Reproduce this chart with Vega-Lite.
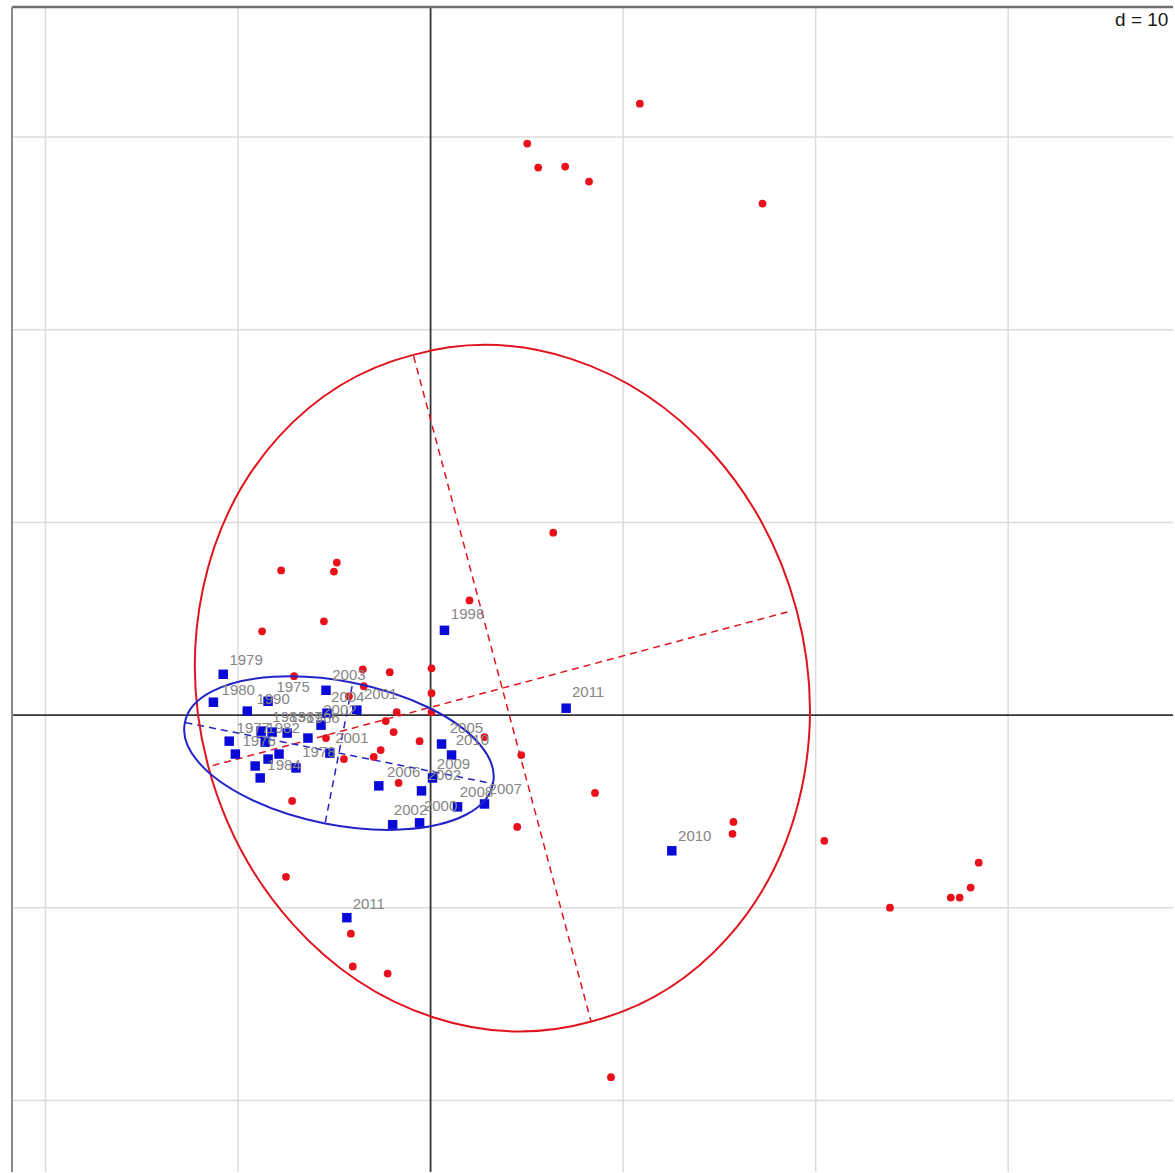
{
  "$schema": "https://vega.github.io/schema/vega-lite/v6.json",
  "autosize": {"type": "fit", "contains": "padding"},
  "width": 1175,
  "height": 1173,
  "padding": {"left": 10, "top": 5, "right": 0, "bottom": 0},
  "background": "white",
  "config": {"view": {"stroke": null}},
  "datasets": {
    "grid": [
      {"v": -20}, {"v": -10}, {"v": 10}, {"v": 20}, {"v": 30}
    ],
    "one": [{"k": 1}],
    "red": [
      {"x": 10.87, "y": 31.73}, {"x": 5.02, "y": 29.66}, {"x": 5.59, "y": 28.42}, {"x": 6.99, "y": 28.47},
      {"x": 8.23, "y": 27.69}, {"x": 17.24, "y": 26.55}, {"x": 6.37, "y": 9.47}, {"x": 2.02, "y": 5.95},
      {"x": -7.76, "y": 7.51}, {"x": -4.87, "y": 7.92}, {"x": -5.02, "y": 7.45}, {"x": -5.54, "y": 4.87},
      {"x": -8.75, "y": 4.35}, {"x": -7.09, "y": 2.02}, {"x": -3.52, "y": 2.38}, {"x": -2.12, "y": 2.23},
      {"x": 0.05, "y": 2.43}, {"x": 0.05, "y": 1.14}, {"x": -4.24, "y": 0.98}, {"x": -3.47, "y": 1.5},
      {"x": 0.05, "y": 0.16}, {"x": -1.76, "y": 0.16}, {"x": -2.33, "y": -0.31}, {"x": -1.92, "y": -0.88},
      {"x": -0.57, "y": -1.35}, {"x": -5.43, "y": -1.19}, {"x": -2.59, "y": -1.81}, {"x": -2.95, "y": -2.17},
      {"x": -4.5, "y": -2.28}, {"x": -1.66, "y": -3.52}, {"x": 2.8, "y": -1.14}, {"x": 4.71, "y": -2.07},
      {"x": 4.5, "y": -5.8}, {"x": 8.54, "y": -4.04}, {"x": 15.73, "y": -5.54}, {"x": 15.68, "y": -6.16},
      {"x": 20.45, "y": -6.52}, {"x": 23.86, "y": -9.99}, {"x": 27.02, "y": -9.47}, {"x": 27.48, "y": -9.47},
      {"x": 28.05, "y": -8.95}, {"x": 28.47, "y": -7.66}, {"x": 9.37, "y": -18.79}, {"x": -7.19, "y": -4.45},
      {"x": -7.51, "y": -8.39}, {"x": -4.14, "y": -11.34}, {"x": -4.04, "y": -13.04}, {"x": -2.23, "y": -13.41}
    ],
    "blue": [
      {"x": -10.77, "y": 2.12}, {"x": -11.28, "y": 0.67}, {"x": -9.52, "y": 0.21}, {"x": -8.44, "y": 0.72},
      {"x": -8.8, "y": -0.83}, {"x": -8.23, "y": -0.88}, {"x": -7.45, "y": -0.93}, {"x": -10.46, "y": -1.35},
      {"x": -10.14, "y": -2.02}, {"x": -8.59, "y": -1.4}, {"x": -8.44, "y": -2.28}, {"x": -7.87, "y": -2.02},
      {"x": -9.11, "y": -2.64}, {"x": -8.85, "y": -3.26}, {"x": -6.99, "y": -2.74}, {"x": -6.37, "y": -1.19},
      {"x": -5.69, "y": -0.52}, {"x": -5.38, "y": 0.1}, {"x": -5.43, "y": 1.29}, {"x": -3.83, "y": 0.26},
      {"x": -5.23, "y": -1.97}, {"x": -2.69, "y": -3.67}, {"x": -1.97, "y": -5.69}, {"x": -0.57, "y": -5.59},
      {"x": -0.47, "y": -3.93}, {"x": 0.1, "y": -3.26}, {"x": 0.57, "y": -1.5}, {"x": 1.09, "y": -2.07},
      {"x": 1.4, "y": -4.76}, {"x": 2.8, "y": -4.61}, {"x": 0.72, "y": 4.4}, {"x": 7.04, "y": 0.36},
      {"x": 12.53, "y": -7.04}, {"x": -4.35, "y": -10.51}
    ],
    "labels": [
      {"t": "1979", "x": -9.58, "y": 2.85}, {"t": "1980", "x": -9.99, "y": 1.29}, {"t": "1990", "x": -8.18, "y": 0.83},
      {"t": "1975", "x": -7.14, "y": 1.45}, {"t": "1983", "x": -7.35, "y": -0.1}, {"t": "1987", "x": -6.47, "y": -0.1},
      {"t": "1986", "x": -5.59, "y": -0.16}, {"t": "1977", "x": -9.21, "y": -0.67}, {"t": "1976", "x": -8.9, "y": -1.35},
      {"t": "1982", "x": -7.66, "y": -0.67}, {"t": "1984", "x": -7.61, "y": -2.59}, {"t": "1978", "x": -5.8, "y": -1.92},
      {"t": "2003", "x": -4.24, "y": 2.07}, {"t": "2004", "x": -4.3, "y": 0.93}, {"t": "2001", "x": -2.59, "y": 1.09},
      {"t": "2002", "x": -4.71, "y": 0.26}, {"t": "2001", "x": -4.09, "y": -1.19}, {"t": "2006", "x": -1.4, "y": -2.95},
      {"t": "2002", "x": 0.72, "y": -3.11}, {"t": "2009", "x": 1.19, "y": -2.54}, {"t": "2005", "x": 1.86, "y": -0.67},
      {"t": "2010", "x": 2.17, "y": -1.29}, {"t": "2008", "x": 2.38, "y": -3.99}, {"t": "2007", "x": 3.88, "y": -3.83},
      {"t": "2002", "x": -1.04, "y": -4.92}, {"t": "2000", "x": 0.52, "y": -4.71}, {"t": "1998", "x": 1.92, "y": 5.23},
      {"t": "2011", "x": 8.18, "y": 1.19}, {"t": "2010", "x": 13.72, "y": -6.26}, {"t": "2011", "x": -3.21, "y": -9.78}
    ],
    "centers": [
      {"g": "red", "x": 3.73, "y": 1.4},
      {"g": "blue", "x": -4.76, "y": -1.97}
    ],
    "segments": [
      {"g": "red", "x": -0.88, "y": 18.63, "x2": 8.33, "y2": -15.89},
      {"g": "red", "x": -11.32, "y": -2.62, "x2": 18.78, "y2": 5.42},
      {"g": "blue", "x": -12.73, "y": -0.39, "x2": 3.21, "y2": -3.55},
      {"g": "blue", "x": -5.47, "y": -5.57, "x2": -4.05, "y2": 1.64}
    ]
  },
  "layer": [
    {
      "data": {"name": "grid"},
      "mark": {"type": "rule", "stroke": "#dcdcdc", "strokeWidth": 1.5},
      "encoding": {
        "x": {"field": "v", "type": "quantitative", "axis": null, "scale": {"domain": [-21.74, 38.56], "nice": false, "zero": false}}
      }
    },
    {
      "data": {"name": "grid"},
      "mark": {"type": "rule", "stroke": "#dcdcdc", "strokeWidth": 1.5},
      "encoding": {
        "y": {"field": "v", "type": "quantitative", "axis": null, "scale": {"domain": [-23.71, 36.75], "nice": false, "zero": false}}
      }
    },
    {
      "data": {"name": "one"},
      "mark": {"type": "rule", "stroke": "#333333", "strokeWidth": 1.8},
      "encoding": {
        "x": {"datum": 0, "type": "quantitative", "axis": null, "scale": {"domain": [-21.74, 38.56], "nice": false, "zero": false}}
      }
    },
    {
      "data": {"name": "one"},
      "mark": {"type": "rule", "stroke": "#333333", "strokeWidth": 1.8},
      "encoding": {
        "y": {"datum": 0, "type": "quantitative", "axis": null, "scale": {"domain": [-23.71, 36.75], "nice": false, "zero": false}}
      }
    },
    {
      "data": {"name": "one"},
      "mark": {"type": "rule", "stroke": "#6e6e6e", "strokeWidth": 2.5},
      "encoding": {
        "y": {"datum": 36.75, "type": "quantitative", "axis": null, "scale": {"domain": [-23.71, 36.75], "nice": false, "zero": false}}
      }
    },
    {
      "data": {"name": "one"},
      "mark": {"type": "rule", "stroke": "#8a8a8a", "strokeWidth": 2},
      "encoding": {
        "x": {"datum": -21.74, "type": "quantitative", "axis": null, "scale": {"domain": [-21.74, 38.56], "nice": false, "zero": false}}
      }
    },
    {
      "data": {"name": "segments"},
      "mark": {"type": "rule", "strokeWidth": 1.5, "strokeDash": [7, 5]},
      "encoding": {
        "x": {"field": "x", "type": "quantitative", "axis": null, "scale": {"domain": [-21.74, 38.56], "nice": false, "zero": false}},
        "y": {"field": "y", "type": "quantitative", "axis": null, "scale": {"domain": [-23.71, 36.75], "nice": false, "zero": false}},
        "x2": {"field": "x2"},
        "y2": {"field": "y2"},
        "color": {"field": "g", "type": "nominal", "legend": null, "scale": {"domain": ["red", "blue"], "range": ["#e0141e", "#2323c8"]}}
      }
    },
    {
      "data": {"name": "red"},
      "mark": {"type": "point", "shape": "circle", "filled": true, "size": 60, "opacity": 1, "color": "#e8101a"},
      "encoding": {
        "x": {"field": "x", "type": "quantitative", "axis": null, "scale": {"domain": [-21.74, 38.56], "nice": false, "zero": false}},
        "y": {"field": "y", "type": "quantitative", "axis": null, "scale": {"domain": [-23.71, 36.75], "nice": false, "zero": false}}
      }
    },
    {
      "data": {"name": "centers"},
      "transform": [{"filter": "datum.g === 'red'"}],
      "mark": {"type": "point", "shape": "M 89 333.3 A 345 301 75 1 0 -89 -333.3 A 345 301 75 1 0 89 333.3 Z", "size": 4, "filled": false, "opacity": 1, "stroke": "#e0141e", "strokeWidth": 2},
      "encoding": {
        "x": {"field": "x", "type": "quantitative", "axis": null, "scale": {"domain": [-21.74, 38.56], "nice": false, "zero": false}},
        "y": {"field": "y", "type": "quantitative", "axis": null, "scale": {"domain": [-23.71, 36.75], "nice": false, "zero": false}}
      }
    },
    {
      "data": {"name": "blue"},
      "mark": {"type": "point", "shape": "square", "filled": true, "size": 90, "opacity": 1, "color": "#0a0ad8"},
      "encoding": {
        "x": {"field": "x", "type": "quantitative", "axis": null, "scale": {"domain": [-21.74, 38.56], "nice": false, "zero": false}},
        "y": {"field": "y", "type": "quantitative", "axis": null, "scale": {"domain": [-23.71, 36.75], "nice": false, "zero": false}}
      }
    },
    {
      "data": {"name": "centers"},
      "transform": [{"filter": "datum.g === 'blue'"}],
      "mark": {"type": "point", "shape": "M 154 30.5 A 157 71 11.2 1 0 -154 -30.5 A 157 71 11.2 1 0 154 30.5 Z", "size": 4, "filled": false, "opacity": 1, "stroke": "#2323c8", "strokeWidth": 2},
      "encoding": {
        "x": {"field": "x", "type": "quantitative", "axis": null, "scale": {"domain": [-21.74, 38.56], "nice": false, "zero": false}},
        "y": {"field": "y", "type": "quantitative", "axis": null, "scale": {"domain": [-23.71, 36.75], "nice": false, "zero": false}}
      }
    },
    {
      "data": {"name": "labels"},
      "mark": {"type": "text", "font": "Liberation Sans", "fontSize": 15, "fill": "#858585", "align": "center", "baseline": "middle"},
      "encoding": {
        "x": {"field": "x", "type": "quantitative", "axis": null, "scale": {"domain": [-21.74, 38.56], "nice": false, "zero": false}},
        "y": {"field": "y", "type": "quantitative", "axis": null, "scale": {"domain": [-23.71, 36.75], "nice": false, "zero": false}},
        "text": {"field": "t"}
      }
    },
    {
      "data": {"name": "one"},
      "mark": {"type": "text", "text": "d = 10", "font": "Liberation Sans", "fontSize": 19, "fill": "#1a1a1a", "align": "left", "baseline": "middle"},
      "encoding": {
        "x": {"datum": 35.55, "type": "quantitative", "axis": null, "scale": {"domain": [-21.74, 38.56], "nice": false, "zero": false}},
        "y": {"datum": 36.05, "type": "quantitative", "axis": null, "scale": {"domain": [-23.71, 36.75], "nice": false, "zero": false}}
      }
    }
  ]
}
